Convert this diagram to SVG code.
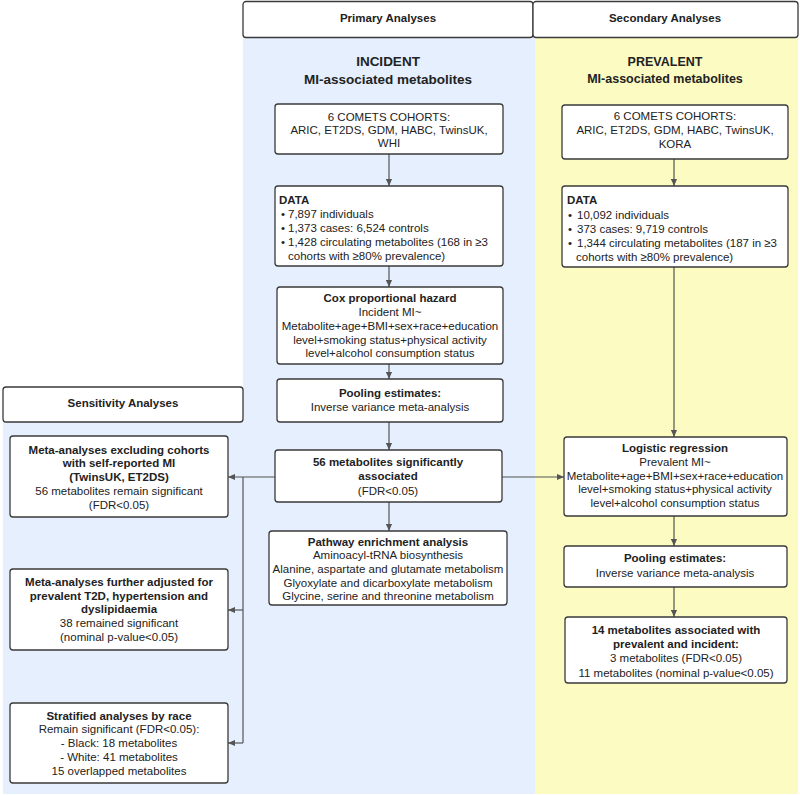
<svg xmlns="http://www.w3.org/2000/svg" width="800" height="795" viewBox="0 0 800 795">
<style>
.box{fill:#fff;stroke:#3a3a3a;stroke-width:1.3}
.hdr{fill:#fff;stroke:#3a3a3a;stroke-width:1.3}
text{font-family:"Liberation Sans",Arial,sans-serif;font-size:11.5px;fill:#222}
.c{text-anchor:middle}
.b{font-weight:bold}
.h{font-size:11.5px;font-weight:bold;text-anchor:middle}
.ln{fill:none;stroke:#555;stroke-width:1.2}
</style>
<defs>
<marker id="ah" viewBox="0 0 8 8" refX="8" refY="4" markerWidth="7" markerHeight="7" markerUnits="userSpaceOnUse" orient="auto">
<path d="M0,0.5 L8,4 L0,7.5 z" fill="#555"/>
</marker>
</defs>
<rect width="800" height="795" fill="#fff"/>
<g id="backgrounds">
<rect x="243" y="36" width="292" height="758" fill="#e5effd"/>
<rect x="3" y="387" width="240" height="407" fill="#e5effd"/>
<rect x="535" y="36" width="263" height="758" fill="#fbfbc2"/>
</g>
<g id="hdr-primary">
<rect class="hdr" x="243" y="1.5" width="290" height="36" rx="3"/>
<text class="h" x="388" y="22">Primary Analyses</text>
</g>
<g id="hdr-secondary">
<rect class="hdr" x="533" y="1.5" width="265" height="36" rx="3"/>
<text class="h" x="665" y="22">Secondary Analyses</text>
</g>
<g id="title-incident">
<text class="c b" x="388" y="66" style="font-size:13.5px">INCIDENT</text>
<text class="c b" x="388" y="84" style="font-size:13.5px">MI-associated metabolites</text>
</g>
<g id="title-prevalent">
<text class="c b" x="665" y="65.5" style="font-size:12.5px">PREVALENT</text>
<text class="c b" x="665" y="82.5" style="font-size:12.5px">MI-associated metabolites</text>
</g>
<g id="hdr-sensitivity">
<rect class="hdr" x="3" y="387" width="240" height="35" rx="3"/>
<text class="h" x="123" y="407">Sensitivity Analyses</text>
</g>

<g id="connectors">
<line class="ln" x1="389" y1="154" x2="389" y2="186" marker-end="url(#ah)"/>
<line class="ln" x1="389" y1="266" x2="389" y2="287" marker-end="url(#ah)"/>
<line class="ln" x1="389" y1="364" x2="389" y2="379" marker-end="url(#ah)"/>
<line class="ln" x1="389" y1="422" x2="389" y2="450" marker-end="url(#ah)"/>
<line class="ln" x1="389" y1="502" x2="389" y2="531" marker-end="url(#ah)"/>
<line class="ln" x1="275" y1="477" x2="228" y2="477" marker-end="url(#ah)"/>
<line class="ln" x1="243" y1="477" x2="243" y2="743"/>
<line class="ln" x1="243" y1="610" x2="228" y2="610" marker-end="url(#ah)"/>
<line class="ln" x1="243" y1="743" x2="228" y2="743" marker-end="url(#ah)"/>
<line class="ln" x1="502" y1="477" x2="564" y2="477" marker-end="url(#ah)"/>
<line class="ln" x1="674" y1="159" x2="674" y2="186" marker-end="url(#ah)"/>
<line class="ln" x1="674" y1="267" x2="674" y2="437" marker-end="url(#ah)"/>
<line class="ln" x1="674" y1="516" x2="674" y2="546" marker-end="url(#ah)"/>
<line class="ln" x1="674" y1="587" x2="674" y2="617" marker-end="url(#ah)"/>
</g>

<g id="inc-cohorts">
<rect class="box" x="275" y="104" width="228" height="50" rx="3"/>
<text class="c" x="389" y="121">6 COMETS COHORTS:</text>
<text class="c" x="389" y="134">ARIC, ET2DS, GDM, HABC, TwinsUK,</text>
<text class="c" x="389" y="147">WHI</text>
</g>
<g id="inc-data">
<rect class="box" x="275" y="186" width="228" height="80" rx="3"/>
<text class="b" x="279" y="204">DATA</text>
<text x="281" y="218">•</text><text x="288" y="218">7,897 individuals</text>
<text x="281" y="232">•</text><text x="288" y="232">1,373 cases: 6,524 controls</text>
<text x="281" y="246">•</text><text x="288" y="246">1,428 circulating metabolites (168 in ≥3</text>
<text x="288" y="260">cohorts with ≥80% prevalence)</text>
</g>
<g id="cox">
<rect class="box" x="277" y="287" width="226" height="77" rx="3"/>
<text class="c b" x="390" y="302">Cox proportional hazard</text>
<text class="c" x="390" y="316">Incident MI~</text>
<text class="c" x="390" y="330">Metabolite+age+BMI+sex+race+education</text>
<text class="c" x="390" y="344">level+smoking status+physical activity</text>
<text class="c" x="390" y="357">level+alcohol consumption status</text>
</g>
<g id="inc-pooling">
<rect class="box" x="277" y="379" width="226" height="43" rx="3"/>
<text class="c b" x="390" y="397">Pooling estimates:</text>
<text class="c" x="390" y="411">Inverse variance meta-analysis</text>
</g>
<g id="sig56">
<rect class="box" x="275" y="450" width="227" height="52" rx="3"/>
<text class="c b" x="388" y="466">56 metabolites significantly</text>
<text class="c b" x="388" y="480">associated</text>
<text class="c" x="388" y="495">(FDR&lt;0.05)</text>
</g>
<g id="pathway">
<rect class="box" x="269" y="531" width="238" height="74" rx="3"/>
<text class="c b" x="388" y="546">Pathway enrichment analysis</text>
<text class="c" x="388" y="559">Aminoacyl-tRNA biosynthesis</text>
<text class="c" x="388" y="573">Alanine, aspartate and glutamate metabolism</text>
<text class="c" x="388" y="587">Glyoxylate and dicarboxylate metabolism</text>
<text class="c" x="388" y="600">Glycine, serine and threonine metabolism</text>
</g>
<g id="sens-excl">
<rect class="box" x="10" y="436" width="218" height="81" rx="3"/>
<text class="c b" x="119" y="454">Meta-analyses excluding cohorts</text>
<text class="c b" x="119" y="467">with self-reported MI</text>
<text class="c b" x="119" y="481">(TwinsUK, ET2DS)</text>
<text class="c" x="119" y="495">56 metabolites remain significant</text>
<text class="c" x="119" y="509">(FDR&lt;0.05)</text>
</g>
<g id="sens-adj">
<rect class="box" x="10" y="569" width="218" height="81" rx="3"/>
<text class="c b" x="119" y="586">Meta-analyses further adjusted for</text>
<text class="c b" x="119" y="600">prevalent T2D, hypertension and</text>
<text class="c b" x="119" y="613">dyslipidaemia</text>
<text class="c" x="119" y="627">38 remained significant</text>
<text class="c" x="119" y="641">(nominal p-value&lt;0.05)</text>
</g>
<g id="sens-race">
<rect class="box" x="10" y="703" width="218" height="80" rx="3"/>
<text class="c b" x="119" y="720">Stratified analyses by race</text>
<text class="c" x="119" y="733">Remain significant (FDR&lt;0.05):</text>
<text class="c" x="119" y="747">- Black: 18 metabolites</text>
<text class="c" x="119" y="761">- White: 41 metabolites</text>
<text class="c" x="119" y="775">15 overlapped metabolites</text>
</g>
<g id="prev-cohorts">
<rect class="box" x="562" y="105" width="226" height="54" rx="3"/>
<text class="c" x="675" y="120">6 COMETS COHORTS:</text>
<text class="c" x="675" y="134">ARIC, ET2DS, GDM, HABC, TwinsUK,</text>
<text class="c" x="675" y="148">KORA</text>
</g>
<g id="prev-data">
<rect class="box" x="562" y="186" width="226" height="81" rx="3"/>
<text class="b" x="567" y="204">DATA</text>
<text x="568" y="219">•</text><text x="577" y="219">10,092 individuals</text>
<text x="568" y="233">•</text><text x="577" y="233">373 cases: 9,719 controls</text>
<text x="568" y="247">•</text><text x="577" y="247">1,344 circulating metabolites (187 in ≥3</text>
<text x="576" y="261">cohorts with ≥80% prevalence)</text>
</g>
<g id="logistic">
<rect class="box" x="564" y="437" width="223" height="79" rx="3"/>
<text class="c b" x="675" y="452">Logistic regression</text>
<text class="c" x="675" y="466">Prevalent MI~</text>
<text class="c" x="675" y="480">Metabolite+age+BMI+sex+race+education</text>
<text class="c" x="675" y="493">level+smoking status+physical activity</text>
<text class="c" x="675" y="507">level+alcohol consumption status</text>
</g>
<g id="prev-pooling">
<rect class="box" x="564" y="546" width="223" height="41" rx="3"/>
<text class="c b" x="675" y="562">Pooling estimates:</text>
<text class="c" x="675" y="577">Inverse variance meta-analysis</text>
</g>
<g id="overlap14">
<rect class="box" x="565" y="617" width="222" height="66" rx="3"/>
<text class="c b" x="676" y="634">14 metabolites associated with</text>
<text class="c b" x="676" y="648">prevalent and incident:</text>
<text class="c" x="676" y="662">3 metabolites (FDR&lt;0.05)</text>
<text class="c" x="676" y="677">11 metabolites (nominal p-value&lt;0.05)</text>
</g>
</svg>
